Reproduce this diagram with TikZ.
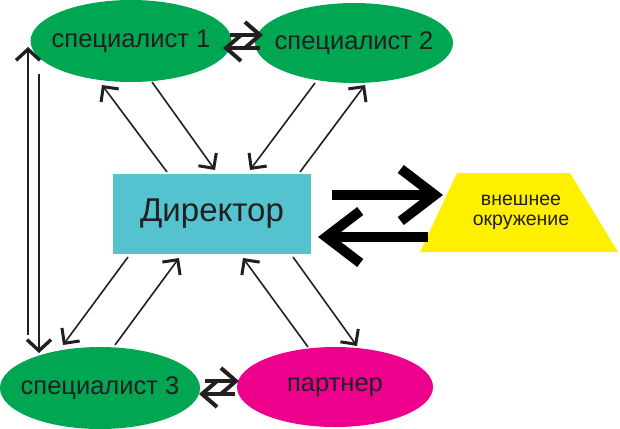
\documentclass[tikz,border=0pt]{standalone}
\usepackage{fontspec}
\setmainfont{Liberation Sans}
\usetikzlibrary{shapes.geometric,arrows.meta,calc}
\definecolor{spgreen}{RGB}{0,166,81}
\definecolor{dircyan}{RGB}{85,195,207}
\definecolor{envyellow}{RGB}{255,240,0}
\definecolor{pmagenta}{RGB}{236,0,140}
\definecolor{ink}{RGB}{35,31,32}
\tikzset{
  oval/.style={ellipse, inner sep=0pt, text=ink, font=\fontsize{25.5}{28}\selectfont},
  thinarr/.style={draw=ink, line width=1.6pt, -{Straight Barb[length=11pt,width=22pt,line width=3pt]}},
  vertarr/.style={draw=ink, line width=2.4pt, -{Straight Barb[length=11pt,width=24pt,line width=3.4pt]}},
  midarr/.style={draw=ink, line width=4pt, -{Straight Barb[length=15pt,width=26pt,line width=4pt]}},
  bigarr/.style={draw=black, line width=10pt, -{Straight Barb[length=34pt,width=52pt,line width=10pt]}}
}
\begin{document}
\begin{tikzpicture}[x=1pt,y=-1pt]
\useasboundingbox (0,0) rectangle (620,428);
% trapezoid of the outer environment
\fill[envyellow] (457,173) -- (570,173) -- (618,252) -- (420,252) -- cycle;
% nodes
\node[oval, fill=spgreen, minimum width=201pt, minimum height=82pt] (s1) at (131,41) {\makebox[0pt]{специалист 1}};
\node[oval, fill=spgreen, minimum width=198pt, minimum height=80pt] (s2) at (354,43) {\makebox[0pt]{специалист 2}};
\node[oval, fill=spgreen, minimum width=200pt, minimum height=82pt] (s3) at (100,388) {\makebox[0pt]{специалист 3}};
\node[oval, fill=pmagenta, minimum width=196pt, minimum height=80pt] (p) at (335,387) {\makebox[0pt]{партнер}};
\node[rectangle, fill=dircyan, minimum width=198pt, minimum height=80pt, inner sep=0pt, text=ink, font=\fontsize{33}{38}\selectfont] (dir) at (212,214) {Директор};
\node[inner sep=0pt, text=ink, align=center, font=\fontsize{19.5}{20}\selectfont] (env) at (521,212.5) {внешнее\\окружение};
% thin arrows around director
\draw[thinarr] ($(s1)+(21,41)$) -- ($(dir)+(3,-44)$);
\draw[thinarr] ($(dir)+(-45,-42)$) -- ($(s1)+(-29,44)$);
\draw[thinarr] ($(s2)+(-39,40)$) -- ($(dir)+(38,-44)$);
\draw[thinarr] ($(dir)+(88,-42)$) -- ($(s2)+(11,42)$);
\draw[thinarr] ($(dir)+(-84,43)$) -- ($(s3)+(-37,-43)$);
\draw[thinarr] ($(s3)+(15,-43)$) -- ($(dir)+(-33,44)$);
\draw[thinarr] ($(p)+(-27,-40)$) -- ($(dir)+(31,44)$);
\draw[thinarr] ($(dir)+(81,43)$) -- ($(p)+(22,-41)$);
% vertical arrows
\draw[vertarr] ($(s3)+(-72,-53)$) -- ($(s1)+(-103,6)$);
\draw[vertarr] ($(s1)+(-92,33)$) -- ($(s3)+(-61,-35)$);
% short pair arrows
\draw[midarr] ($(s1)+(99,-6)$) -- ($(s2)+(-91,-8)$);
\draw[midarr] ($(s2)+(-94,5)$) -- ($(s1)+(92,7)$);
\draw[midarr] ($(s3)+(105,-7)$) -- ($(p)+(-96,-6)$);
\draw[midarr] ($(p)+(-100,7)$) -- ($(s3)+(99,6)$);
% big arrows
\draw[bigarr] ($(dir)+(120,-19)$) -- ($(env)+(-78,-17.5)$);
\draw[bigarr] ($(env)+(-93,24.5)$) -- ($(dir)+(106,23)$);
\end{tikzpicture}
\end{document}
